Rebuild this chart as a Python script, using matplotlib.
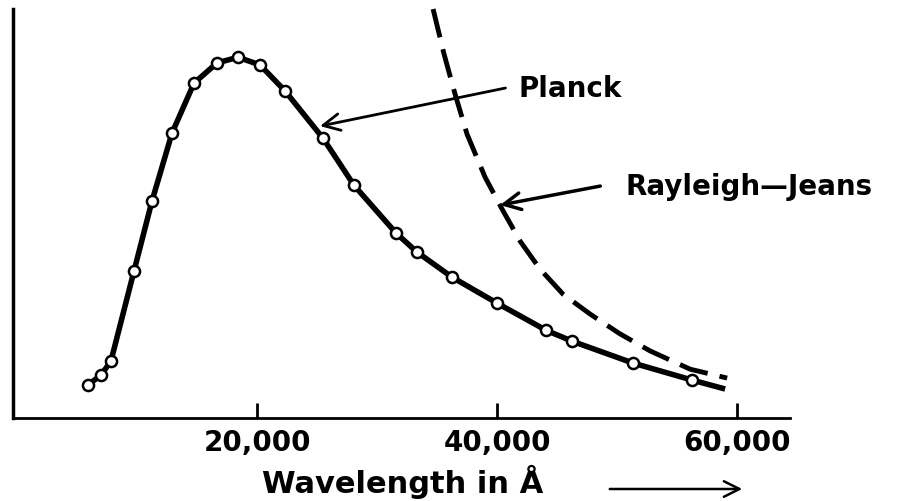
import matplotlib.pyplot as plt

plt.rcParams['font.family'] = ['DejaVu Sans']

# Planck curve: measured points (wavelength in Angstrom, relative intensity)
planck_wl = [5900, 7000, 7830, 9750, 11250, 12920, 14750, 16670, 18420,
             20250, 22330, 25500, 28080, 31580, 33330, 36250, 40000,
             44080, 46250, 51330, 56250]
planck_i = [7.2, 9.6, 13.1, 35.3, 52.6, 69.4, 81.7, 86.7, 88.1,
            86.2, 79.8, 68.1, 56.5, 44.7, 40.0, 33.8, 27.4,
            20.7, 18.0, 12.6, 8.4]
# where the drawn Planck line stops
planck_end_wl = 59000
planck_end_i = 6.2

# Rayleigh-Jeans curve (dashed)
rj_wl = [34670, 35580, 36500, 37500, 39000, 40420, 41920, 43580, 45500,
         47750, 50250, 52750, 56080, 59170]
rj_i = [100.0, 88.9, 79.0, 69.1, 58.5, 50.6, 42.7, 35.8, 29.6,
        24.7, 19.8, 15.6, 11.1, 8.9]

tick_vals = [20000, 40000, 60000]
tick_labels = ['20,000', '40,000', '60,000']

fig = plt.figure(figsize=(9.13, 5.02), dpi=100)
ax = fig.add_axes([0.0142, 0.165, 0.851, 0.815])

ax.plot(planck_wl + [planck_end_wl], planck_i + [planck_end_i],
        color='black', lw=4, solid_capstyle='butt', zorder=2)
ax.plot(planck_wl, planck_i, 'o', ms=8, mfc='white', mec='black',
        mew=1.8, zorder=3)
ax.plot(rj_wl, rj_i, color='black', lw=3.5, dashes=(6, 2.5),
        clip_on=False, zorder=2)

# labels with arrows
ax.annotate('', xy=(25250, 71.1), xytext=(40700, 80.5),
            arrowprops=dict(arrowstyle='->', lw=2, color='black',
                            mutation_scale=30, shrinkA=0, shrinkB=0))
ax.text(41750, 78.5, 'Planck', fontsize=20, fontweight='bold',
        va='baseline', ha='left')
ax.annotate('', xy=(40250, 51.6), xytext=(48600, 56.3),
            arrowprops=dict(arrowstyle='->', lw=2.5, color='black',
                            mutation_scale=30, shrinkA=0, shrinkB=0))
ax.text(50670, 54.3, 'Rayleigh\u2014Jeans', fontsize=20, fontweight='bold',
        va='baseline', ha='left', clip_on=False)

ax.set_xlim(-333, 64400)
ax.set_ylim(-1.0, 100)
ax.set_xticks(tick_vals)
ax.set_xticklabels(tick_labels, fontsize=20, fontweight='bold')
ax.tick_params(axis='x', direction='in', length=11, width=2, pad=7)
ax.set_yticks([])

for s in ['top', 'right']:
    ax.spines[s].set_visible(False)
ax.spines['left'].set_linewidth(2.5)
ax.spines['bottom'].set_linewidth(2)

fig.text(262 / 913, 9 / 502, 'Wavelength in \u00c5', fontsize=22,
         fontweight='bold', va='baseline', ha='left')
fig.patches.append(plt.matplotlib.patches.FancyArrowPatch(
    (607 / 913, 12 / 502), (745 / 913, 12 / 502), transform=fig.transFigure,
    arrowstyle='->', mutation_scale=28, lw=1.8, color='black'))

fig.savefig('out.png', dpi=100)
